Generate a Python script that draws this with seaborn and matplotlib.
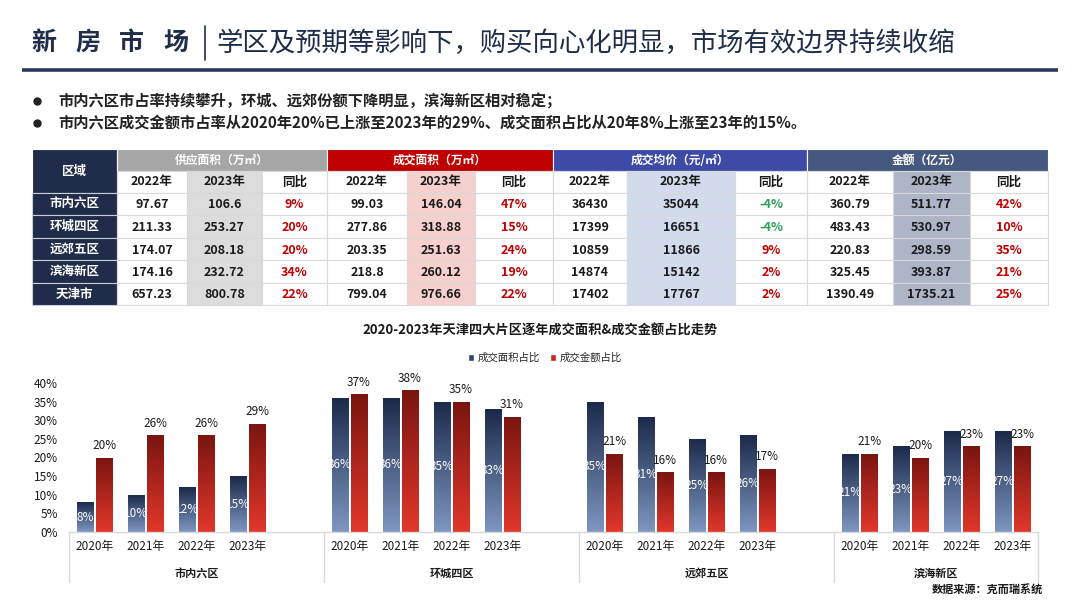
import matplotlib
matplotlib.use("Agg")
import matplotlib.pyplot as plt
import matplotlib.transforms as mtransforms
import seaborn as sns
import numpy as np
import pandas as pd
from matplotlib.colors import LinearSegmentedColormap
from matplotlib.patches import Rectangle

# ---------------- 数据 ----------------
page_tag = "新房市场"
subtitle = "学区及预期等影响下，购买向心化明显，市场有效边界持续收缩"
bullets = [
    "市内六区市占率持续攀升，环城、远郊份额下降明显，滨海新区相对稳定；",
    "市内六区成交金额市占率从2020年20%已上涨至2023年的29%、成交面积占比从20年8%上涨至23年的15%。",
]

table_rows = ["市内六区", "环城四区", "远郊五区", "滨海新区", "天津市"]
group_names = ["供应面积（万㎡）", "成交面积（万㎡）", "成交均价（元/㎡）", "金额（亿元）"]
sub_headers = ["2022年", "2023年", "同比"]

supply_2022 = ["97.67", "211.33", "174.07", "174.16", "657.23"]
supply_2023 = ["106.6", "253.27", "208.18", "232.72", "800.78"]
supply_yoy = ["9%", "20%", "20%", "34%", "22%"]
deal_area_2022 = ["99.03", "277.86", "203.35", "218.8", "799.04"]
deal_area_2023 = ["146.04", "318.88", "251.63", "260.12", "976.66"]
deal_area_yoy = ["47%", "15%", "24%", "19%", "22%"]
price_2022 = ["36430", "17399", "10859", "14874", "17402"]
price_2023 = ["35044", "16651", "11866", "15142", "17767"]
price_yoy = ["-4%", "-4%", "9%", "2%", "2%"]
amount_2022 = ["360.79", "483.43", "220.83", "325.45", "1390.49"]
amount_2023 = ["511.77", "530.97", "298.59", "393.87", "1735.21"]
amount_yoy = ["42%", "10%", "35%", "21%", "25%"]

chart_title = "2020-2023年天津四大片区逐年成交面积&成交金额占比走势"
regions = ["市内六区", "环城四区", "远郊五区", "滨海新区"]
years = ["2020年", "2021年", "2022年", "2023年"]
series_names = ["成交面积占比", "成交金额占比"]
area_share = [[8, 10, 12, 15], [36, 36, 35, 33], [35, 31, 25, 26], [21, 23, 27, 27]]
amount_share = [[20, 26, 26, 29], [37, 38, 35, 31], [21, 16, 16, 17], [21, 20, 23, 23]]
source_note = "数据来源：克而瑞系统"

# ---------------- 样式 ----------------
sns.set_theme(style="white")
plt.rcParams["font.family"] = ["Noto Sans CJK SC", "DejaVu Sans"]
plt.rcParams["axes.unicode_minus"] = False

navy = "#1f2d4a"
text_dark = "#1a1a1a"
up_red = "#c00000"
down_green = "#2aa05a"
group_colors = ["#a6a6a6", "#c00000", "#3d4ba6", "#45587f"]
shade_colors = ["#dcdcdc", "#f6d0cd", "#d2dbec", "#adb5c7"]
grid_gray = "#d9d9d9"

fig = plt.figure(figsize=(10.8, 6.08), dpi=100)
bg = fig.add_axes([0, 0, 1, 1])
bg.set_xlim(0, 1080)
bg.set_ylim(608, 0)
bg.axis("off")

# 标题（字间距加宽）
for i, ch in enumerate(page_tag):
    bg.text(31 + 44 * i, 43, ch, fontsize=18, weight="bold", color=navy, va="center")
bg.plot([205, 205], [26, 60], color=navy, lw=1.2)
bg.text(216, 43, subtitle, fontsize=19, color=navy, va="center")
bg.plot([22, 1058], [70, 70], color="#2b3a5c", lw=2.6, solid_capstyle="butt")

for i, line in enumerate(bullets):
    y = 101 + 22 * i
    bg.plot(37, y, "o", ms=5, color="#222222")
    bg.text(58, y, line, fontsize=11, weight="bold", color="#222222", va="center")

# ---------------- 表格 ----------------
col_edges = [32, 117, 187, 262, 327, 407, 475, 553, 627, 735, 807, 893, 970, 1048]
row_edges = [149, 171, 193, 215, 238, 260, 283, 305]
columns = [supply_2022, supply_2023, supply_yoy,
           deal_area_2022, deal_area_2023, deal_area_yoy,
           price_2022, price_2023, price_yoy,
           amount_2022, amount_2023, amount_yoy]


def cell(x0, x1, y0, y1, face, edge=grid_gray):
    bg.add_patch(Rectangle((x0, y0), x1 - x0, y1 - y0, facecolor=face,
                           edgecolor=edge, lw=0.8))


# 区域列
cell(col_edges[0], col_edges[1], row_edges[0], row_edges[2], navy, "white")
bg.text((col_edges[0] + col_edges[1]) / 2, (row_edges[0] + row_edges[2]) / 2, "区域",
        color="white", fontsize=9, weight="bold", ha="center", va="center")
for r, name in enumerate(table_rows):
    y0, y1 = row_edges[r + 2], row_edges[r + 3]
    cell(col_edges[0], col_edges[1], y0, y1, navy, "#c8ccd6")
    bg.text((col_edges[0] + col_edges[1]) / 2, (y0 + y1) / 2, name, color="white",
            fontsize=9, weight="bold", ha="center", va="center")

for g, gname in enumerate(group_names):
    x0, x1 = col_edges[1 + 3 * g], col_edges[4 + 3 * g]
    cell(x0, x1, row_edges[0], row_edges[1], group_colors[g], "white")
    bg.text((x0 + x1) / 2, (row_edges[0] + row_edges[1]) / 2, gname, color="white",
            fontsize=8.5, weight="bold", ha="center", va="center")
    for j, sub in enumerate(sub_headers):
        c = 1 + 3 * g + j
        cx0, cx1 = col_edges[c], col_edges[c + 1]
        face = shade_colors[g] if j == 1 else "white"
        cell(cx0, cx1, row_edges[1], row_edges[2], face)
        bg.text((cx0 + cx1) / 2, (row_edges[1] + row_edges[2]) / 2, sub,
                color=text_dark, fontsize=9, weight="bold", ha="center", va="center")
        for r in range(len(table_rows)):
            y0, y1 = row_edges[r + 2], row_edges[r + 3]
            cell(cx0, cx1, y0, y1, face)
            val = columns[c - 1][r]
            color = text_dark
            if j == 2:
                color = down_green if val.startswith("-") else up_red
            bg.text((cx0 + cx1) / 2, (y0 + y1) / 2 + 1, val, color=color,
                    fontsize=9, weight="bold", ha="center", va="center")

# ---------------- 柱状图 ----------------
bg.text(540, 331, chart_title, fontsize=9.5, weight="bold", color=text_dark,
        ha="center", va="center")

records = []
order = []
for ri, reg in enumerate(regions):
    for yi, yr in enumerate(years):
        slot = reg + yr
        order.append(slot)
        records.append({"slot": slot, "series": series_names[0], "value": area_share[ri][yi]})
        records.append({"slot": slot, "series": series_names[1], "value": amount_share[ri][yi]})
    if ri < len(regions) - 1:
        order.append(reg + "_gap")
df = pd.DataFrame(records)

ax = fig.add_axes([69 / 1080, (608 - 532) / 608, 969 / 1080, 149 / 608])
ax.patch.set_alpha(0)
sns.barplot(data=df, x="slot", y="value", hue="series", order=order,
            hue_order=series_names, palette=["#2f4674", "#c0281f"],
            width=0.75, gap=0.12, saturation=1, ax=ax)

gradients = [("#7e96c1", "#1b2a4a"), ("#e2372b", "#7a1510")]
for container, (bottom_c, top_c) in zip(ax.containers, gradients):
    cmap = LinearSegmentedColormap.from_list("grad", [bottom_c, top_c])
    for bar in container:
        x, w, h = bar.get_x(), bar.get_width(), bar.get_height()
        im = ax.imshow(np.linspace(0, 1, 128).reshape(-1, 1), extent=[x, x + w, 0, h],
                       origin="lower", aspect="auto", cmap=cmap, zorder=2)
        im.set_clip_path(bar)
        bar.set_facecolor("none")
        bar.set_edgecolor("none")

for bar in ax.containers[0]:
    h = bar.get_height()
    ax.text(bar.get_x() + bar.get_width() / 2, h / 2, f"{h:.0f}%", color="white",
            fontsize=8.5, ha="center", va="center", zorder=5)
for bar in ax.containers[1]:
    h = bar.get_height()
    ax.annotate(f"{h:.0f}%", (bar.get_x() + bar.get_width() / 2, h), xytext=(0, 4),
                textcoords="offset points", ha="center", va="bottom",
                fontsize=8.5, color=text_dark, zorder=5)

ax.set_xlim(-0.5, len(order) - 0.5)
ax.set_ylim(0, 40)
ax.set_yticks(range(0, 41, 5))
ax.set_yticklabels([f"{v}%" for v in range(0, 41, 5)])
year_pos = [order.index(reg + yr) for reg in regions for yr in years]
ax.set_xticks(year_pos)
ax.set_xticklabels(years * len(regions))
ax.tick_params(axis="x", length=0, pad=6, labelsize=8.5, labelcolor=text_dark)
ax.tick_params(axis="y", length=0, pad=8, labelsize=8.5, labelcolor=text_dark)
ax.set_xlabel("")
ax.set_ylabel("")
for side in ["top", "right", "left"]:
    ax.spines[side].set_visible(False)
ax.spines["bottom"].set_color(grid_gray)
ax.spines["bottom"].set_linewidth(1)

trans = mtransforms.blended_transform_factory(ax.transData, ax.transAxes)
edges = [-0.5, 4.5, 9.5, 14.5, len(order) - 0.5]
for ri, reg in enumerate(regions):
    ax.plot([edges[ri], edges[ri]], [0, -0.336], transform=trans, color=grid_gray,
            lw=1, clip_on=False)
    ax.text((edges[ri] + edges[ri + 1]) / 2, -0.275, reg, transform=trans,
            fontsize=8, weight="bold", color=text_dark, ha="center", va="center")
ax.plot([edges[-1], edges[-1]], [0, -0.336], transform=trans, color=grid_gray,
        lw=1, clip_on=False)

sns.move_legend(ax, "center", bbox_to_anchor=(0.491, 1.168), ncol=2, frameon=False,
                title=None, fontsize=7.5, handlelength=0.6, handleheight=0.6,
                columnspacing=1.0, handletextpad=0.3)

bg.text(1043, 590, source_note, fontsize=8, weight="bold", color=text_dark,
        ha="right", va="center")

fig.savefig("out.png", dpi=100)
